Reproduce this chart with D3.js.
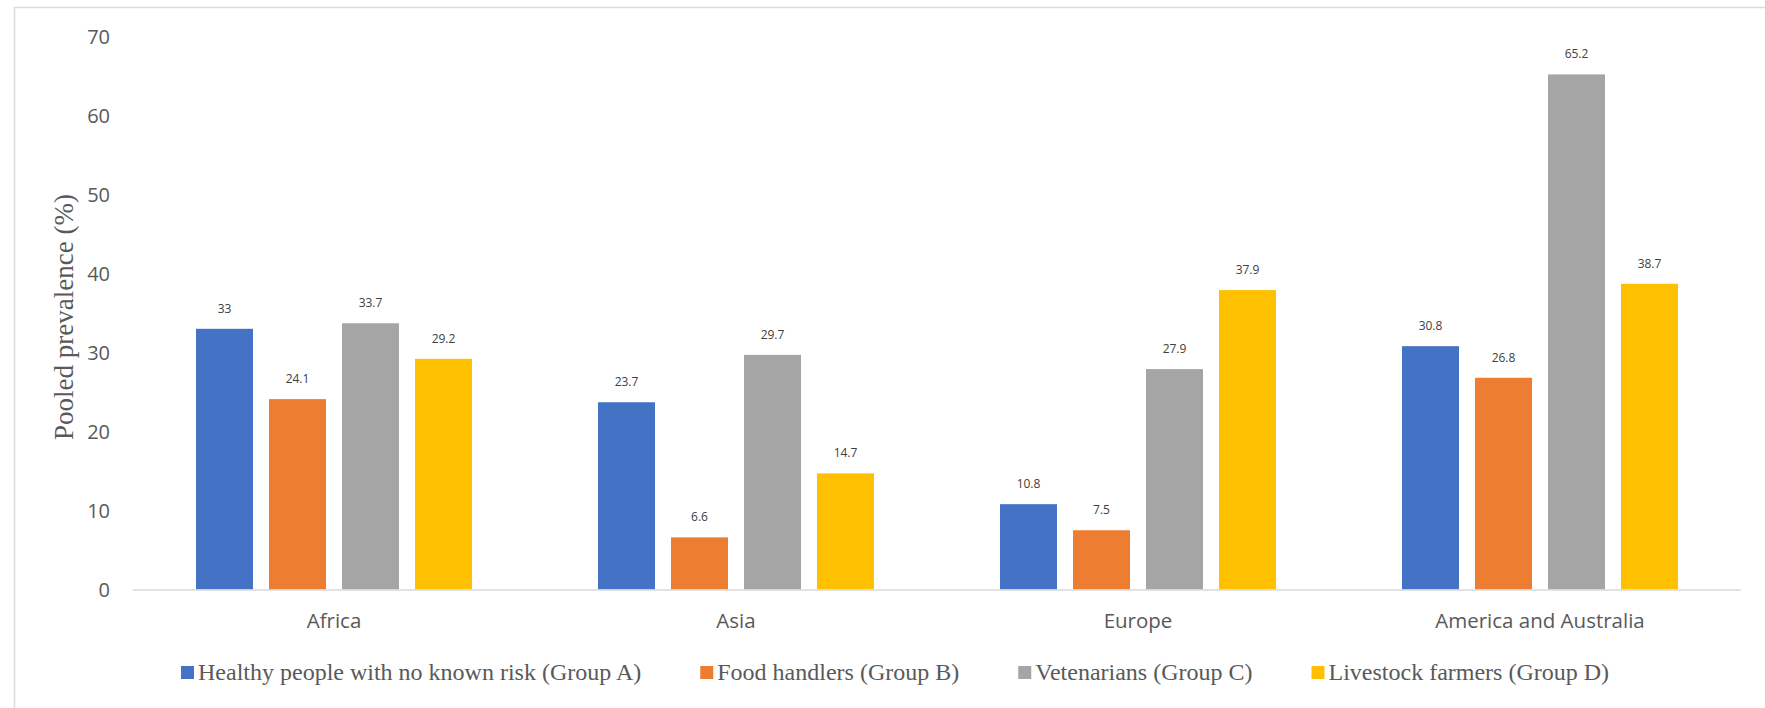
<!DOCTYPE html>
<html>
<head>
<meta charset="utf-8">
<script src="https://cdn.jsdelivr.net/npm/d3@7"></script>
<style>
  html, body { margin: 0; padding: 0; background: #fff; }
  svg { display: block; }
</style>
</head>
<body>
<svg id="chart" width="1765" height="708"></svg>
<script>
// Regions on the x axis
const regions = ["Africa", "Asia", "Europe", "America and Australia"];

// Population groups (one bar per group within each region)
const groups = [
  "Healthy people with no known risk (Group A)",
  "Food handlers (Group B)",
  "Vetenarians (Group C)",
  "Livestock farmers (Group D)"
];

// Pooled prevalence (%) per group, ordered by region
const groupA = [33, 23.7, 10.8, 30.8];
const groupB = [24.1, 6.6, 7.5, 26.8];
const groupC = [33.7, 29.7, 27.9, 65.2];
const groupD = [29.2, 14.7, 37.9, 38.7];

const yTicks = [0, 10, 20, 30, 40, 50, 60, 70];
const yTitle = "Pooled prevalence (%)";

const series = [groupA, groupB, groupC, groupD];
const colors = ["#4472C4", "#ED7D31", "#A5A5A5", "#FFC000"];

const svg = d3.select("#chart");

// Outer chart frame
svg.append("rect")
  .attr("x", 14.5).attr("y", 7.5)
  .attr("width", 2000).attr("height", 2000)
  .attr("fill", "none")
  .attr("stroke", "#d9d9d9")
  .attr("stroke-width", 1.5);

const plot = { left: 133, right: 1741, top: 36.5, bottom: 589.5 };

const y = d3.scaleLinear().domain([0, 70]).range([plot.bottom, plot.top]);

const x0 = d3.scaleBand().domain(regions).range([plot.left, plot.right]).padding(0);
const x1 = d3.scaleBand().domain(d3.range(groups.length))
  .range([63, x0.bandwidth() - 63])
  .paddingInner(16 / 73)
  .paddingOuter(0);

// Y axis tick labels (no axis line, no gridlines)
const yAxis = d3.axisLeft(y).tickValues(yTicks).tickSize(0).tickPadding(0);
const yg = svg.append("g").attr("transform", "translate(110,0)").call(yAxis);
yg.select(".domain").remove();
yg.selectAll("text")
  .attr("font-family", "'Open Sans', sans-serif")
  .attr("font-size", 20)
  .attr("fill", "#595959")
  .attr("dy", "0.36em");

// Y axis title
svg.append("text")
  .attr("transform", `translate(73,${(plot.top + plot.bottom) / 2 + 4}) rotate(-90)`)
  .attr("text-anchor", "middle")
  .attr("font-family", "'Liberation Serif', 'Times New Roman', serif")
  .attr("font-size", 27)
  .attr("fill", "#595959")
  .text(yTitle);

// Bars
const regionG = svg.selectAll("g.region")
  .data(regions)
  .join("g")
  .attr("class", "region")
  .attr("transform", d => `translate(${x0(d)},0)`);

regionG.each(function(region, ri) {
  const g = d3.select(this);
  const vals = series.map((s, si) => ({ si, v: s[ri] }));
  g.selectAll("rect")
    .data(vals)
    .join("rect")
    .attr("x", d => x1(d.si))
    .attr("y", d => y(d.v))
    .attr("width", x1.bandwidth())
    .attr("height", d => y(0) - y(d.v))
    .attr("fill", d => colors[d.si]);
  g.selectAll("text.val")
    .data(vals)
    .join("text")
    .attr("class", "val")
    .attr("x", d => x1(d.si) + x1.bandwidth() / 2)
    .attr("y", d => y(d.v) - 16)
    .attr("text-anchor", "middle")
    .attr("font-family", "'Open Sans', sans-serif")
    .attr("font-size", 12)
    .attr("fill", "#404040")
    .text(d => String(d.v));
});

// Baseline
svg.append("line")
  .attr("x1", plot.left).attr("x2", plot.right)
  .attr("y1", y(0) + 0.5).attr("y2", y(0) + 0.5)
  .attr("stroke", "#d9d9d9")
  .attr("stroke-width", 1.5);

// Category labels
const xAxis = d3.axisBottom(x0).tickSize(0).tickPadding(0);
const xg = svg.append("g").attr("transform", `translate(0,${plot.bottom})`).call(xAxis);
xg.select(".domain").remove();
xg.selectAll("text")
  .attr("font-family", "'Open Sans', sans-serif")
  .attr("font-size", 20.5)
  .attr("fill", "#595959")
  .attr("dy", null)
  .attr("y", 38.5);

// Legend
const legend = svg.append("g").attr("class", "legend");
let lx = 181;
const legendBaseline = 680;
groups.forEach((name, i) => {
  const item = legend.append("g");
  item.append("rect")
    .attr("x", lx).attr("y", legendBaseline - 14)
    .attr("width", 13).attr("height", 13)
    .attr("fill", colors[i]);
  const t = item.append("text")
    .attr("x", lx + 17)
    .attr("y", legendBaseline)
    .attr("font-family", "'Liberation Serif', 'Times New Roman', serif")
    .attr("font-size", 24)
    .attr("fill", "#595959")
    .text(name);
  const w = t.node().getComputedTextLength();
  lx = lx + 17 + w + 59;
});
</script>
</body>
</html>
